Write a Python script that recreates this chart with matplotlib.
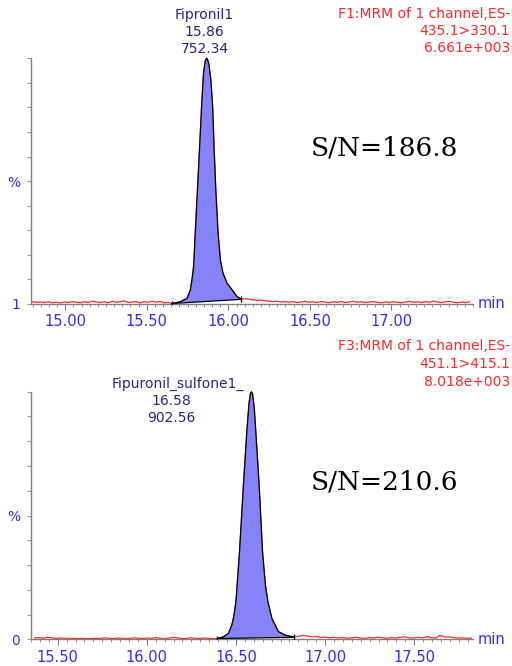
import numpy as np
import matplotlib
matplotlib.use("Agg")
import matplotlib.pyplot as plt

# ---- data (intensity in % of base peak, time in min) ----
# Fipronil, F1 channel
p1_pre = [0.9, 0.7, 0.8, 0.6, 0.9, 0.5, 0.7, 0.4, 0.8, 0.6, 1.0, 0.7, 0.5, 0.9, 0.6,
          1.2, 0.8, 0.6, 0.9, 0.5, 1.1, 0.7, 0.9, 1.3, 0.6, 0.8, 1.0, 0.4, 0.9, 0.7,
          1.1, 0.8, 1.0, 0.5, 0.6]
p1_pre_range = (14.80, 15.63)
p1_peak_t = [15.654, 15.705, 15.747, 15.767, 15.777, 15.787, 15.797, 15.818, 15.838,
             15.848, 15.858, 15.866, 15.872, 15.881, 15.893, 15.903, 15.913, 15.923,
             15.937, 15.951, 15.967, 15.992, 16.023, 16.053, 16.080]
p1_peak_y = [0.2, 0.9, 2.3, 5.7, 9.8, 15.2, 28.9, 55.9, 83.0,
             94.0, 98.8, 100.0, 99.6, 97.5, 91.0, 81.0, 62.7, 46.4,
             28.9, 17.9, 12.6, 8.5, 5.7, 3.0, 1.9]
p1_post = [2.2, 2.0, 1.7, 1.5, 1.6, 1.3, 1.2, 1.0, 1.1, 0.8, 0.9, 0.7, 1.0, 0.6, 0.8,
           1.1, 0.7, 0.9, 0.6, 1.0, 0.8, 0.5, 0.9, 0.7, 1.0, 0.6, 0.8, 1.1, 0.7, 0.9,
           0.6, 0.8, 1.0, 0.7, 0.5, 0.8, 0.6, 0.9, 0.7, 0.5, 0.8, 1.1, 0.7, 0.9, 0.6,
           1.0, 0.7, 1.2, 0.8, 0.6, 0.9, 1.1, 0.7, 0.5, 0.8, 0.6, 0.9]
p1_post_range = (16.10, 17.48)

# Fipronil sulfone, F3 channel
p2_pre = [0.5, 0.7, 0.4, 0.8, 0.6, 0.3, 0.5, 0.4, 0.3, 0.4, 0.3, 0.4, 0.3, 0.3, 0.4,
          0.3, 0.6, 0.4, 0.3, 0.5, 0.4, 0.3, 0.4, 0.6, 0.4, 0.3, 0.5, 0.4, 0.7, 0.4,
          0.3, 0.5, 0.8, 0.5, 0.3, 0.4, 0.6, 0.4, 0.3, 0.5, 0.4, 0.3]
p2_pre_range = (15.37, 16.37)
p2_peak_t = [16.393, 16.430, 16.458, 16.477, 16.486, 16.500, 16.520, 16.542, 16.562,
             16.573, 16.581, 16.587, 16.594, 16.603, 16.612, 16.630, 16.649, 16.665,
             16.679, 16.701, 16.738, 16.776, 16.828]
p2_peak_y = [0.3, 1.0, 2.4, 5.8, 8.5, 15.2, 35.4, 62.3, 85.0,
             95.0, 99.2, 100.0, 98.8, 93.0, 83.0, 62.3, 35.4, 22.0,
             15.2, 8.5, 3.1, 1.7, 0.8]
p2_post = [1.2, 1.6, 1.3, 1.0, 1.1, 0.8, 0.9, 0.6, 0.8, 0.5, 0.7, 0.4, 0.6, 0.8, 0.5,
           0.4, 0.7, 0.5, 0.9, 0.6, 0.4, 0.7, 0.5, 0.8, 1.0, 0.6, 0.5, 0.8, 0.6, 1.1,
           0.7, 0.5, 1.6, 0.9, 1.0, 0.7, 0.5, 0.6, 0.4, 0.5]
p2_post_range = (16.85, 17.82)

panels = [
    dict(pre=p1_pre, pre_r=p1_pre_range, pt=p1_peak_t, py=p1_peak_y, post=p1_post,
         post_r=p1_post_range, xlim=(14.79, 17.50), ticks=[15.0, 15.5, 16.0, 16.5, 17.0],
         base_label="1", name="Fipronil1", rt="15.86", area="752.34",
         label_dx=(-2, -2, -2), label_dy=(43, 26, 9),
         header=["F1:MRM of 1 channel,ES-", "435.1>330.1", "6.661e+003"],
         sn="S/N=186.8"),
    dict(pre=p2_pre, pre_r=p2_pre_range, pt=p2_peak_t, py=p2_peak_y, post=p2_post,
         post_r=p2_post_range, xlim=(15.35, 17.83), ticks=[15.5, 16.0, 16.5, 17.0, 17.5],
         base_label="0", name="Fipuronil_sulfone1_", rt="16.58", area="902.56",
         label_dx=(-74, -80, -80), label_dy=(8, -9, -26),
         header=["F3:MRM of 1 channel,ES-", "451.1>415.1", "8.018e+003"],
         sn="S/N=210.6"),
]

W, H = 512, 666
fig = plt.figure(figsize=(W / 100, H / 100), dpi=100)

RED = "#ff2a2a"
BLUE = "#2f2ff5"
NAVY = "#27277f"
GREY = "#808080"
FILL = "#8484f8"

ax_px = [(31, 473, 58.3, 304.0), (31, 473, 391.7, 639.3)]
header_y = [(14, 31, 48), (346, 363.5, 381.5)]

for p, (x0, x1, ytop, ybot), hy in zip(panels, ax_px, header_y):
    ax = fig.add_axes([x0 / W, 1 - ybot / H, (x1 - x0) / W, (ybot - ytop) / H])
    t = np.concatenate([np.linspace(*p["pre_r"], len(p["pre"])), p["pt"],
                        np.linspace(*p["post_r"], len(p["post"]))])
    y = np.concatenate([p["pre"], p["py"], p["post"]])

    ax.plot(t, y, color=RED, lw=0.9, zorder=2)
    ax.fill(p["pt"], p["py"], facecolor=FILL, edgecolor="none", zorder=3)
    ax.plot(p["pt"], p["py"], color="black", lw=0.9, zorder=4, clip_on=False)
    # integration baseline with end marks
    bx = [p["pt"][0], p["pt"][-1]]
    by = [p["py"][0], p["py"][-1]]
    ax.plot(bx, by, color="black", lw=0.9, zorder=4)
    ax.plot(bx, by, ls="none", marker="|", ms=5, mew=0.9, color="black", zorder=4)

    for s in ["top", "right"]:
        ax.spines[s].set_visible(False)
    for s in ["left", "bottom"]:
        ax.spines[s].set_color(GREY)
        ax.spines[s].set_linewidth(1.0)

    ax.set_xticks(p["ticks"])
    ax.set_xticklabels(["%.2f" % v for v in p["ticks"]])
    ax.set_xticks(np.arange(14.0, 18.0, 0.05), minor=True)
    ax.set_xlim(*p["xlim"])
    ax.tick_params(axis="x", which="major", length=4, width=0.8, color=GREY,
                   labelcolor=BLUE, labelsize=10.5, pad=3.5)
    ax.tick_params(axis="x", which="minor", length=2, width=0.6, color=GREY)

    yt = np.arange(0, 101, 10)
    ax.set_yticks(yt)
    ax.set_yticklabels([p["base_label"] if v == 0 else ("%" if v == 50 else "") for v in yt])
    ax.set_ylim(0, 100)
    ax.tick_params(axis="y", length=3, width=0.6, color=GREY, labelcolor=BLUE,
                   labelsize=10, pad=5)

    ax.text(1.011, 0, "min", transform=ax.transAxes, ha="left", va="center",
            color=BLUE, fontsize=10.5)

    apex = p["pt"][int(np.argmax(p["py"]))]
    for txt, dx, dy in zip([p["name"], p["rt"], p["area"]], p["label_dx"], p["label_dy"]):
        ax.annotate(txt, xy=(apex, 100), xytext=(dx, dy), textcoords="offset pixels",
                    ha="center", va="center", color=NAVY, fontsize=10,
                    annotation_clip=False)

    ax.text(0.799, 0.635, p["sn"], transform=ax.transAxes, ha="center", va="center",
            fontsize=19, family="DejaVu Serif", color="black")

    for line, yy in zip(p["header"], hy):
        fig.text(510 / W, 1 - yy / H, line, ha="right", va="center", color=RED,
                 fontsize=10)

fig.savefig("out.png", dpi=100)
